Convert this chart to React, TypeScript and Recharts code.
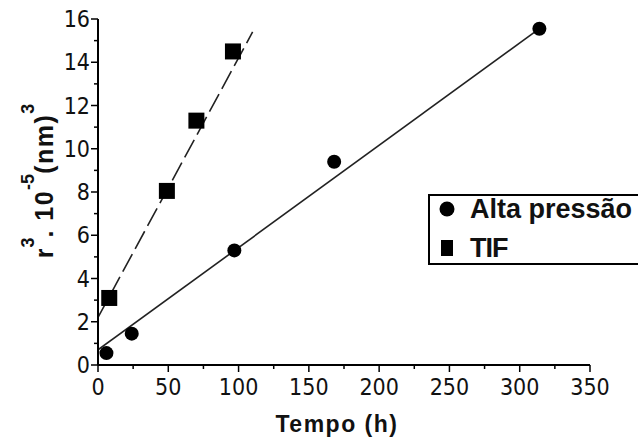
import React from "react";
import { ComposedChart, Line, Scatter, XAxis, YAxis } from "recharts";

// measured points
const altaPressao = [
  { x: 6, y: 0.55 },
  { x: 24, y: 1.45 },
  { x: 97, y: 5.3 },
  { x: 168, y: 9.4 },
  { x: 314, y: 15.55 },
];

const tif = [
  { x: 8, y: 3.1 },
  { x: 49, y: 8.05 },
  { x: 70, y: 11.3 },
  { x: 96, y: 14.5 },
];

// fitted lines (end points)
const altaFit = [
  { x: 0, y: 0.7 },
  { x: 315, y: 15.6 },
];

const tifFit = [
  { x: 0, y: 2.2 },
  { x: 110, y: 15.4 },
];

const seriesNames = ["Alta pressão", "TIF"];

const xTicks = [0, 25, 50, 75, 100, 125, 150, 175, 200, 225, 250, 275, 300, 325, 350];
const yTicks = [0, 1, 2, 3, 4, 5, 6, 7, 8, 9, 10, 11, 12, 13, 14, 15, 16];

const tickFont = '"Liberation Sans Narrow", "DejaVu Sans Condensed", Arial, sans-serif';
const boldFont = '"Liberation Sans", Arial, sans-serif';

const XTick = (props: any) => {
  const { x, y, payload } = props;
  const v = payload.value as number;
  const major = v % 50 === 0;
  return (
    <g>
      <line x1={x} x2={x} y1={y} y2={y + (major ? 7 : 4)} stroke="#000" strokeWidth={1.5} />
      {major && (
        <text x={x} y={y + 30} textAnchor="middle" fontSize={23} fontFamily={tickFont} fill="#111">
          {v}
        </text>
      )}
    </g>
  );
};

const YTick = (props: any) => {
  const { x, y, payload } = props;
  const v = payload.value as number;
  const major = v % 2 === 0;
  return (
    <g>
      <line x1={x} x2={x - (major ? 7 : 4)} y1={y} y2={y} stroke="#000" strokeWidth={1.5} />
      {major && (
        <text x={x - 8} y={y + 8} textAnchor="end" fontSize={23} fontFamily={tickFont} fill="#111">
          {v}
        </text>
      )}
    </g>
  );
};

const YLabel = (props: any) => {
  const vb = props.viewBox || { x: 38, y: 19, width: 60, height: 346 };
  const cx = vb.x + 15;
  const cy = vb.y + vb.height / 2 - 11;
  return (
    <text
      transform={`rotate(-90, ${cx}, ${cy})`}
      x={cx}
      y={cy}
      textAnchor="middle"
      fontSize={25}
      fontWeight="bold"
      fontFamily={boldFont}
      fill="#111"
    >
      <tspan letterSpacing={1}>r</tspan>
      <tspan dy={-19} fontSize={18}>3</tspan>
      <tspan dy={19} letterSpacing={1.5}>. 10</tspan>
      <tspan dy={-19} fontSize={18}>-5</tspan>
      <tspan dy={19} letterSpacing={1.5}>(nm)</tspan>
      <tspan dy={-19} fontSize={18}>3</tspan>
    </text>
  );
};

const Circle = (props: any) => {
  const { cx, cy } = props;
  return <circle cx={cx} cy={cy} r={7} fill="#000" />;
};

const Square = (props: any) => {
  const { cx, cy } = props;
  return <rect x={cx - 8} y={cy - 8} width={16} height={16} fill="#000" />;
};

const LegendBox = () => (
  <div
    style={{
      position: "absolute",
      left: 428,
      top: 194,
      border: "2px solid #000",
      background: "#fff",
      width: 240,
      height: 71,
      boxSizing: "border-box",
      fontFamily: boldFont,
      fontWeight: "bold",
      fontSize: 27,
      color: "#111",
    }}
  >
    <svg width={30} height={67} style={{ position: "absolute", left: 0, top: 0 }}>
      <circle cx={17} cy={13} r={7.5} fill="#000" />
      <rect x={11} y={44} width={12} height={16} fill="#000" />
    </svg>
    <div style={{ position: "absolute", left: 40, top: -5, lineHeight: "36px", whiteSpace: "nowrap" }}>
      {seriesNames[0]}
    </div>
    <div style={{ position: "absolute", left: 40, top: 34, lineHeight: "36px", letterSpacing: -1 }}>
      {seriesNames[1]}
    </div>
  </div>
);

export default function App() {
  return (
    <div style={{ position: "absolute", left: 0, top: 0, width: 638, height: 439, overflow: "hidden", background: "#fff" }}>
      <ComposedChart width={638} height={439} margin={{ top: 19, right: 48, bottom: 24, left: 38 }}>
        <XAxis
          type="number"
          dataKey="x"
          domain={[0, 350]}
          ticks={xTicks}
          interval={0}
          tickSize={0}
          tickMargin={0}
          tickLine={false}
          tick={<XTick />}
          height={50}
          axisLine={{ stroke: "#000", strokeWidth: 2 }}
          allowDataOverflow
        />
        <YAxis
          type="number"
          dataKey="y"
          domain={[0, 16]}
          ticks={yTicks}
          interval={0}
          tickSize={0}
          tickMargin={0}
          tickLine={false}
          tick={<YTick />}
          width={60}
          axisLine={{ stroke: "#000", strokeWidth: 2 }}
          label={<YLabel />}
          allowDataOverflow
        />
        <Line
          data={altaFit}
          dataKey="y"
          type="linear"
          stroke="#222"
          strokeWidth={1.6}
          dot={false}
          activeDot={false}
          legendType="none"
          isAnimationActive={false}
        />
        <Line
          data={tifFit}
          dataKey="y"
          type="linear"
          stroke="#222"
          strokeWidth={1.6}
          strokeDasharray="20 6"
          dot={false}
          activeDot={false}
          legendType="none"
          isAnimationActive={false}
        />
        <Scatter name={seriesNames[0]} data={altaPressao} dataKey="y" shape={<Circle />} isAnimationActive={false} />
        <Scatter name={seriesNames[1]} data={tif} dataKey="y" shape={<Square />} isAnimationActive={false} />
      </ComposedChart>
      <LegendBox />
      <div
        style={{
          position: "absolute",
          left: 0,
          width: 638,
          top: 411,
          textAlign: "center",
          paddingLeft: 36,
          boxSizing: "border-box",
          fontFamily: boldFont,
          fontWeight: "bold",
          fontSize: 23,
          letterSpacing: 1.5,
          color: "#111",
        }}
      >
        Tempo (h)
      </div>
    </div>
  );
}
